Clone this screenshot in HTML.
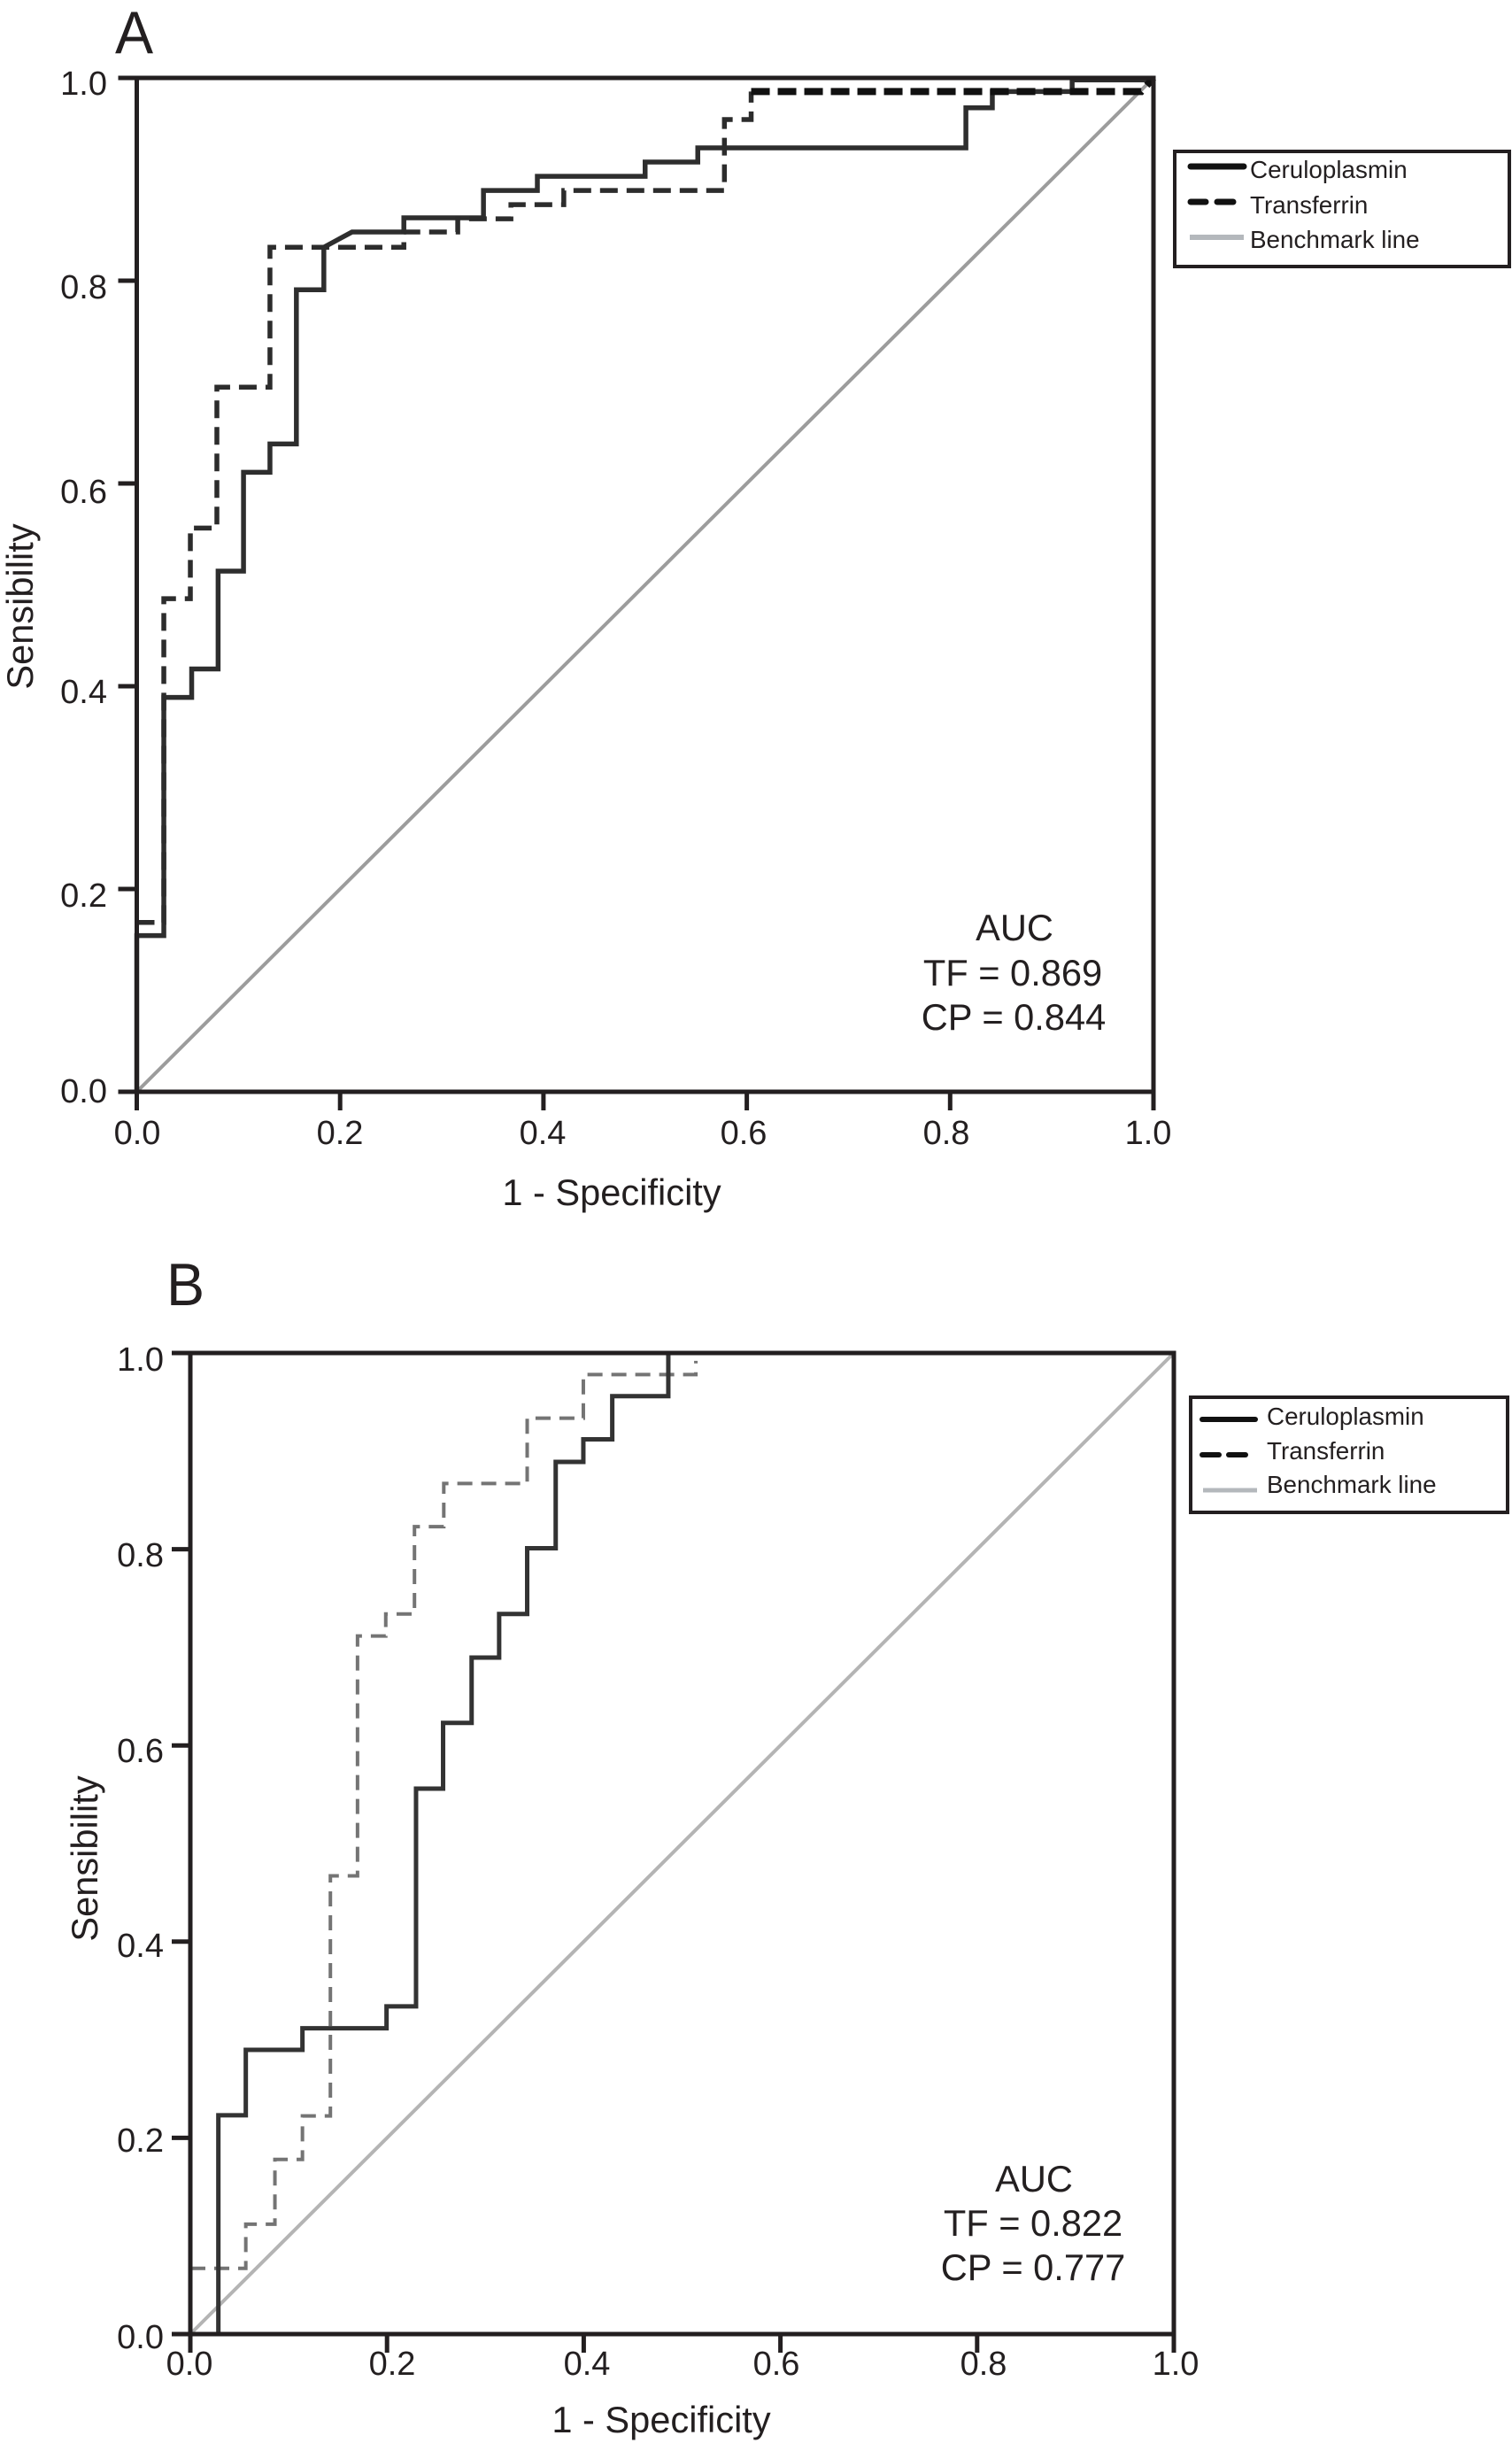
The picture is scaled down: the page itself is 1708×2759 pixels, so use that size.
<!DOCTYPE html>
<html lang="en">
<head>
<meta charset="utf-8">
<title>ROC curves for ceruloplasmin and transferrin</title>
<style>
html,body{margin:0;padding:0;background:#fff;}
svg{display:block;}
text{font-family:"Liberation Sans",Arial,sans-serif;fill:#231f20;}
.tick{font-size:38px;}
.title{font-size:41.6px;}
.auc{font-size:41.6px;text-anchor:middle;}
.leg{font-size:27.8px;}
.letter{font-size:68px;}
.mid{text-anchor:middle;}
.end{text-anchor:end;}
</style>
</head>
<body>
<svg id="figure" xmlns="http://www.w3.org/2000/svg" width="1708" height="2759" viewBox="0 0 1708 2759">
  <rect x="0" y="0" width="1708" height="2759" fill="#fff"/>

  <g id="panel-a">
    <g id="plot-a"></g>
    <text class="letter" transform="translate(130 60) scale(0.95 1)">A</text>
    <g>
      <text class="tick end" x="121" y="107">1.0</text>
      <text class="tick end" x="121" y="337">0.8</text>
      <text class="tick end" x="121" y="568">0.6</text>
      <text class="tick end" x="121" y="794">0.4</text>
      <text class="tick end" x="121" y="1024">0.2</text>
      <text class="tick end" x="121" y="1245">0.0</text>
    </g>
    <g>
      <text class="tick mid" x="155" y="1292">0.0</text>
      <text class="tick mid" x="384" y="1292">0.2</text>
      <text class="tick mid" x="613" y="1292">0.4</text>
      <text class="tick mid" x="840" y="1292">0.6</text>
      <text class="tick mid" x="1069" y="1292">0.8</text>
      <text class="tick mid" x="1297" y="1292">1.0</text>
    </g>
    <text class="title mid" x="691" y="1361">1 - Specificity</text>
    <text class="title mid" transform="translate(37 685) rotate(-90)">Sensibility</text>
    <g>
      <text class="auc" x="1146" y="1062">AUC</text>
      <text class="auc" x="1144" y="1113">TF = 0.869</text>
      <text class="auc" x="1145" y="1163">CP = 0.844</text>
    </g>
    <g>
      <rect x="1327" y="171" width="378" height="130" fill="#fff" stroke="#231f20" stroke-width="4"/>
      <line x1="1345" y1="188" x2="1405" y2="188" stroke="#111" stroke-width="7" stroke-linecap="round"/>
      <text class="leg" x="1412" y="201">Ceruloplasmin</text>
      <line x1="1345" y1="228" x2="1362" y2="228" stroke="#111" stroke-width="7" stroke-linecap="round"/>
      <line x1="1375" y1="228" x2="1393" y2="228" stroke="#111" stroke-width="7" stroke-linecap="round"/>
      <text class="leg" x="1412" y="241">Transferrin</text>
      <line x1="1344" y1="268" x2="1405" y2="268" stroke="#b4b8bc" stroke-width="6"/>
      <text class="leg" x="1412" y="280">Benchmark line</text>
    </g>
  </g>

  <g id="panel-b">
    <g id="plot-b"></g>
    <text class="letter" transform="translate(188 1474) scale(0.95 1)">B</text>
    <g>
      <text class="tick end" x="185" y="1548">1.0</text>
      <text class="tick end" x="185" y="1769">0.8</text>
      <text class="tick end" x="185" y="1990">0.6</text>
      <text class="tick end" x="185" y="2210">0.4</text>
      <text class="tick end" x="185" y="2430">0.2</text>
      <text class="tick end" x="185" y="2652">0.0</text>
    </g>
    <g>
      <text class="tick mid" x="214" y="2682">0.0</text>
      <text class="tick mid" x="443" y="2682">0.2</text>
      <text class="tick mid" x="663" y="2682">0.4</text>
      <text class="tick mid" x="877" y="2682">0.6</text>
      <text class="tick mid" x="1111" y="2682">0.8</text>
      <text class="tick mid" x="1328" y="2682">1.0</text>
    </g>
    <text class="title mid" x="747" y="2747">1 - Specificity</text>
    <text class="title mid" transform="translate(110 2099) rotate(-90)">Sensibility</text>
    <g>
      <text class="auc" x="1168" y="2475">AUC</text>
      <text class="auc" x="1167" y="2525">TF = 0.822</text>
      <text class="auc" x="1167" y="2575">CP = 0.777</text>
    </g>
    <g>
      <rect x="1345" y="1578" width="358" height="130" fill="#fff" stroke="#231f20" stroke-width="4"/>
      <line x1="1358" y1="1603" x2="1418" y2="1603" stroke="#111" stroke-width="6" stroke-linecap="round"/>
      <text class="leg" x="1431" y="1609">Ceruloplasmin</text>
      <line x1="1358" y1="1643" x2="1377" y2="1643" stroke="#111" stroke-width="6" stroke-linecap="round"/>
      <line x1="1388" y1="1643" x2="1407" y2="1643" stroke="#111" stroke-width="6" stroke-linecap="round"/>
      <text class="leg" x="1431" y="1648">Transferrin</text>
      <line x1="1359" y1="1683" x2="1420" y2="1683" stroke="#b4b8bc" stroke-width="5"/>
      <text class="leg" x="1431" y="1686">Benchmark line</text>
    </g>
  </g>
</svg>

<script>
// Axis tick values (shared by both panels)
const xTickValues = [0, 0.2, 0.4, 0.6, 0.8, 1.0];
const yTickValues = [0, 0.2, 0.4, 0.6, 0.8, 1.0];

// Benchmark (chance) line
const benchmarkFpr = [0, 1];
const benchmarkTpr = [0, 1];

// Panel A: ceruloplasmin ROC vertices
const aCeruloplasminFpr = [0, 0, 0.0266, 0.0266, 0.054, 0.054, 0.080, 0.080, 0.105, 0.105, 0.131, 0.131, 0.157, 0.157, 0.184, 0.184, 0.2117, 0.2627, 0.2627, 0.341, 0.341, 0.394, 0.394, 0.500, 0.500, 0.5518, 0.5518, 0.8155, 0.8155, 0.8415, 0.8415, 0.92, 0.92, 1];
const aCeruloplasminTpr = [0, 0.154, 0.154, 0.389, 0.389, 0.417, 0.417, 0.5135, 0.5135, 0.611, 0.611, 0.639, 0.639, 0.791, 0.791, 0.833, 0.848, 0.848, 0.862, 0.862, 0.889, 0.889, 0.903, 0.903, 0.917, 0.917, 0.931, 0.931, 0.9705, 0.9705, 0.9866, 0.9866, 0.998, 0.998];

// Panel A: transferrin ROC vertices
const aTransferrinFpr = [0, 0.0266, 0.0266, 0.0527, 0.0527, 0.0788, 0.0788, 0.131, 0.131, 0.2627, 0.2627, 0.3157, 0.3157, 0.368, 0.368, 0.42, 0.42, 0.578, 0.578, 0.6043, 0.6043, 0.988, 1];
const aTransferrinTpr = [0.167, 0.167, 0.4864, 0.4864, 0.556, 0.556, 0.695, 0.695, 0.833, 0.833, 0.848, 0.848, 0.861, 0.861, 0.875, 0.875, 0.889, 0.889, 0.959, 0.959, 0.9866, 0.9866, 1];

// Panel B: ceruloplasmin ROC vertices
const bCeruloplasminFpr = [0, 0.0285, 0.0285, 0.0564, 0.0564, 0.114, 0.114, 0.1995, 0.1995, 0.2295, 0.2295, 0.257, 0.257, 0.286, 0.286, 0.314, 0.314, 0.3425, 0.3425, 0.3715, 0.3715, 0.3996, 0.3996, 0.429, 0.429, 0.486, 0.486, 1];
const bCeruloplasminTpr = [0, 0, 0.223, 0.223, 0.2897, 0.2897, 0.3117, 0.3117, 0.334, 0.334, 0.556, 0.556, 0.623, 0.623, 0.6895, 0.6895, 0.734, 0.734, 0.801, 0.801, 0.889, 0.889, 0.912, 0.912, 0.956, 0.956, 1, 1];

// Panel B: transferrin ROC vertices
const bTransferrinFpr = [0, 0.0564, 0.0564, 0.086, 0.086, 0.114, 0.114, 0.1424, 0.1424, 0.170, 0.170, 0.1987, 0.1987, 0.2279, 0.2279, 0.2577, 0.2577, 0.3425, 0.3425, 0.3996, 0.3996, 0.514, 0.514];
const bTransferrinTpr = [0.067, 0.067, 0.112, 0.112, 0.178, 0.178, 0.2224, 0.2224, 0.467, 0.467, 0.7115, 0.7115, 0.734, 0.734, 0.823, 0.823, 0.867, 0.867, 0.9335, 0.9335, 0.978, 0.978, 0.992];

const SVG_NS = 'http://www.w3.org/2000/svg';

function scaleLinear(rangeStart, rangeEnd) {
  return function (value) { return rangeStart + (rangeEnd - rangeStart) * value; };
}

function pathFrom(xs, ys, xScale, yScale) {
  return xs.map(function (x, i) {
    return (i ? 'L' : 'M') + xScale(x).toFixed(2) + ' ' + yScale(ys[i]).toFixed(2);
  }).join(' ');
}

function addPath(parent, d, stroke, width, dash) {
  const el = document.createElementNS(SVG_NS, 'path');
  el.setAttribute('d', d);
  el.setAttribute('fill', 'none');
  el.setAttribute('stroke', stroke);
  el.setAttribute('stroke-width', width);
  if (dash) el.setAttribute('stroke-dasharray', dash);
  parent.appendChild(el);
  return el;
}

function addTick(parent, x1, y1, x2, y2) {
  const el = document.createElementNS(SVG_NS, 'line');
  el.setAttribute('x1', x1);
  el.setAttribute('y1', y1);
  el.setAttribute('x2', x2);
  el.setAttribute('y2', y2);
  el.setAttribute('stroke', '#231f20');
  el.setAttribute('stroke-width', 5);
  parent.appendChild(el);
  return el;
}

function drawAxes(parent, xScale, yScale) {
  const frame = addPath(parent,
    pathFrom([0, 1, 1, 0, 0], [0, 0, 1, 1, 0], xScale, yScale) + ' Z',
    '#231f20', 5);
  
  
  xTickValues.forEach(function (v) {
    const tick = addTick(parent, xScale(v), yScale(0), xScale(v), yScale(0) + 21);
    
    
  });
  yTickValues.forEach(function (v) {
    const tick = addTick(parent, xScale(0) - 21, yScale(v), xScale(0), yScale(v));
    
    
  });
}

// Panel A
(function () {
  const plot = document.getElementById('plot-a');
  const x = scaleLinear(154.5, 1303);
  const y = scaleLinear(1233, 88);

  const bench = addPath(plot, pathFrom(benchmarkFpr, benchmarkTpr, x, y), '#9c9c9c', 4);
  
  

  const cerulo = addPath(plot, pathFrom(aCeruloplasminFpr, aCeruloplasminTpr, x, y), '#2e2e2e', 5.5);
  
  

  const transferrin = addPath(plot, pathFrom(aTransferrinFpr.slice(0, -2), aTransferrinTpr.slice(0, -2), x, y), '#2c2c2c', 5.5, '20 10');
  
  

  // The plateau of the transferrin curve is printed heavier in the figure.
  const plateau = addPath(plot, pathFrom(aTransferrinFpr.slice(-3), aTransferrinTpr.slice(-3), x, y), '#111', 8, '21 9');
  
  

  drawAxes(plot, x, y);
})();

// Panel B
(function () {
  const plot = document.getElementById('plot-b');
  const x = scaleLinear(215, 1326);
  const y = scaleLinear(2636, 1528);

  const bench = addPath(plot, pathFrom(benchmarkFpr, benchmarkTpr, x, y), '#b4b4b4', 4);
  
  

  const transferrin = addPath(plot, pathFrom(bTransferrinFpr, bTransferrinTpr, x, y), '#747474', 4, '17 10');
  
  

  const cerulo = addPath(plot, pathFrom(bCeruloplasminFpr, bCeruloplasminTpr, x, y), '#333', 5);
  
  

  drawAxes(plot, x, y);
})();
</script>
</body>
</html>
